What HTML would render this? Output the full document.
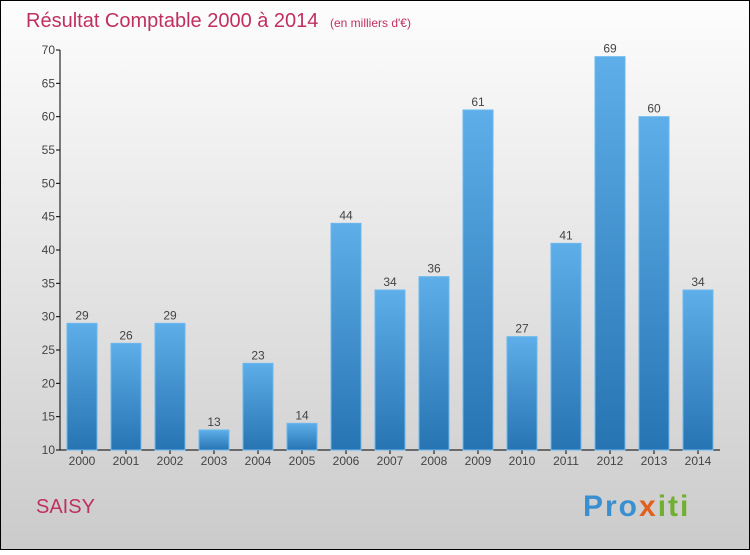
<!DOCTYPE html>
<html><head><meta charset="utf-8"><style>
html,body{margin:0;padding:0}
body{width:750px;height:550px;overflow:hidden;font-family:"Liberation Sans",sans-serif}
</style></head><body>
<svg width="750" height="550" xmlns="http://www.w3.org/2000/svg">
<defs>
<linearGradient id="bg" x1="0" y1="0" x2="0" y2="1"><stop offset="0" stop-color="#fdfdfd"/><stop offset="1" stop-color="#cbcbcb"/></linearGradient>
<linearGradient id="bar" x1="0" y1="0" x2="0" y2="1"><stop offset="0" stop-color="#5daee9"/><stop offset="1" stop-color="#2774b2"/></linearGradient>
</defs>
<rect x="0.5" y="0.5" width="749" height="549" fill="url(#bg)" stroke="#000"/>
<text x="26" y="27" font-size="20" fill="#c0305f">Résultat Comptable 2000 à 2014 <tspan font-size="12" dx="6">(en milliers d'€)</tspan></text>
<g id="axes"></g>
<g id="bars"></g>
<text x="36" y="513" font-size="20" fill="#c0305f">SAISY</text>
<text x="583" y="516" font-size="30" font-weight="bold" letter-spacing="2"><tspan fill="#3a8fd0">Pro</tspan><tspan fill="#e06020">x</tspan><tspan fill="#70b030">iti</tspan></text>
</svg>
<script>
const categories=["2000","2001","2002","2003","2004","2005","2006","2007","2008","2009","2010","2011","2012","2013","2014"];
const values=[29,26,29,13,23,14,44,34,36,61,27,41,69,60,34];
const yTicks=[10,15,20,25,30,35,40,45,50,55,60,65,70];
const NS="http://www.w3.org/2000/svg";
const x0=60,band=44,bw=30;
const y=v=>450-(v-10)*400/60;
const xc=i=>x0+band/2+band*i;
function mk(t,a,p){const e=document.createElementNS(NS,t);for(const k in a)e.setAttribute(k,a[k]);p.appendChild(e);return e;}
const ax=document.getElementById('axes'),bg=document.getElementById('bars');
let l=mk('line',{x1:x0,y1:y(70),x2:x0,y2:450,stroke:'#000'},ax);


l=mk('line',{x1:x0,y1:450,x2:720,y2:450,stroke:'#000'},ax);


yTicks.forEach(v=>{
 mk('line',{x1:x0-4,y1:y(v),x2:x0,y2:y(v),stroke:'#000'},ax);
 const t=mk('text',{x:x0-5,y:y(v)+4,'font-size':12,fill:'#444','text-anchor':'end'},ax);
 t.textContent=v;
 
 
});
categories.forEach((c,i)=>{
 mk('line',{x1:xc(i),y1:450,x2:xc(i),y2:454,stroke:'#000'},ax);
 const t=mk('text',{x:xc(i),y:465,'font-size':12,fill:'#444','text-anchor':'middle'},ax);
 t.textContent=c;
 
 
 const r=mk('rect',{x:xc(i)-bw/2,y:y(values[i]),width:bw,height:450-y(values[i]),fill:'url(#bar)',stroke:'#6bb8ee','stroke-width':1},bg);
 
 
 const vt=mk('text',{x:xc(i),y:y(values[i])-4,'font-size':12,fill:'#444','text-anchor':'middle'},bg);
 vt.textContent=values[i];
 
 
});
</script>
</body></html>
